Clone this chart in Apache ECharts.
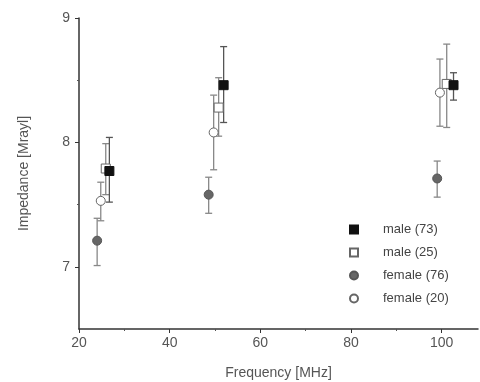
<!DOCTYPE html>
<html>
<head>
<meta charset="utf-8">
<script src="https://cdn.jsdelivr.net/npm/echarts@6/dist/echarts.min.js"></script>
<style>html,body{margin:0;padding:0;background:#fff}#c{width:480px;height:382px}</style>
</head>
<body>
<div id="c"></div>
<script>
// Data
var seriesNames = ['male (73)', 'male (25)', 'female (76)', 'female (20)'];
var freqMale73 = [26.7, 51.9, 102.6];
var male73 = [7.77, 8.46, 8.46];
var male73Lo = [7.52, 8.16, 8.34];
var male73Hi = [8.04, 8.77, 8.56];

var freqMale25 = [25.9, 50.8, 101.1];
var male25 = [7.79, 8.28, 8.47];
var male25Lo = [7.58, 8.05, 8.12];
var male25Hi = [7.99, 8.52, 8.79];

var freqFemale76 = [24.0, 48.6, 99.0];
var female76 = [7.21, 7.58, 7.71];
var female76Lo = [7.01, 7.43, 7.56];
var female76Hi = [7.39, 7.72, 7.85];

var freqFemale20 = [24.8, 49.7, 99.6];
var female20 = [7.53, 8.08, 8.40];
var female20Lo = [7.37, 7.78, 8.13];
var female20Hi = [7.68, 8.38, 8.67];

var xTickLabels = [20, 40, 60, 80, 100];
var xMinorTicks = [30, 50, 70, 90];
var yTickLabels = [7, 8, 9];
var yMinorTicks = [7.5, 8.5];

function pts(xs, ys) { return xs.map(function (x, i) { return [x, ys[i]]; }); }
function errs(xs, lo, hi) { return xs.map(function (x, i) { return [x, lo[i], hi[i]]; }); }

function errSeries(data, color) {
  return {
    type: 'custom', z: 1, silent: true,
    data: data,
    renderItem: function (params, api) {
      var x = api.value(0);
      var lo = api.coord([x, api.value(1)]);
      var hi = api.coord([x, api.value(2)]);
      var hw = 3.5;
      var st = { stroke: color, lineWidth: 1.3 };
      return {
        type: 'group',
        children: [
          { type: 'line', shape: { x1: lo[0], y1: lo[1], x2: hi[0], y2: hi[1] }, style: st },
          { type: 'line', shape: { x1: lo[0] - hw, y1: lo[1], x2: lo[0] + hw, y2: lo[1] }, style: st },
          { type: 'line', shape: { x1: hi[0] - hw, y1: hi[1], x2: hi[0] + hw, y2: hi[1] }, style: st }
        ]
      };
    }
  };
}

var font = 'Liberation Sans, Arial, Helvetica, sans-serif';
var chart = echarts.init(document.getElementById('c'));
chart.setOption({
  animation: false,
  backgroundColor: '#fff',
  grid: { left: 79, right: 2, top: 18, bottom: 53, outerBoundsMode: 'none', containLabel: false },
  legend: {
    orient: 'vertical', left: 344, top: 218,
    itemWidth: 8, itemHeight: 8, itemGap: 10,
    data: seriesNames,
    textStyle: { fontFamily: font, fontSize: 13, color: '#444', padding: [0, 0, 0, 20] }
  },
  xAxis: [{
    type: 'value', min: 20, max: 108, interval: 20,
    name: 'Frequency [MHz]', nameLocation: 'middle', nameGap: 37,
    nameTextStyle: { fontFamily: font, fontSize: 14, color: '#555' },
    axisLine: { lineStyle: { color: '#333', width: 1.5 } },
    axisTick: { customValues: xTickLabels, length: 4, lineStyle: { color: '#333' } },
    axisLabel: { customValues: xTickLabels, fontFamily: font, fontSize: 14, color: '#555', margin: 7 },
    splitLine: { show: false }
  }, {
    type: 'value', min: 20, max: 108, position: 'bottom',
    axisLine: { show: false },
    axisTick: { customValues: xMinorTicks, length: 2, lineStyle: { color: '#555' } },
    axisLabel: { show: false }, splitLine: { show: false }
  }],
  yAxis: [{
    type: 'value', min: 6.5, max: 9, interval: 0.5,
    name: 'Impedance [Mrayl]', nameLocation: 'middle', nameGap: 48, nameRotate: 90,
    nameTextStyle: { fontFamily: font, fontSize: 14, color: '#555' },
    axisLine: { show: true, lineStyle: { color: '#333', width: 1.5 } },
    axisTick: { customValues: yTickLabels, length: 4, lineStyle: { color: '#333' } },
    axisLabel: { customValues: yTickLabels, fontFamily: font, fontSize: 14, color: '#555', margin: 9 },
    splitLine: { show: false }
  }, {
    type: 'value', min: 6.5, max: 9, position: 'left',
    axisLine: { show: false },
    axisTick: { customValues: yMinorTicks, length: 2, lineStyle: { color: '#555' } },
    axisLabel: { show: false }, splitLine: { show: false }
  }],
  series: [
    errSeries(errs(freqFemale76, female76Lo, female76Hi), '#888'),
    errSeries(errs(freqFemale20, female20Lo, female20Hi), '#888'),
    errSeries(errs(freqMale25, male25Lo, male25Hi), '#888'),
    errSeries(errs(freqMale73, male73Lo, male73Hi), '#555'),
    { name: 'female (76)', type: 'scatter', z: 3, symbol: 'circle', symbolSize: 9,
      itemStyle: { color: '#666', borderColor: '#555', borderWidth: 1, opacity: 1 },
      data: pts(freqFemale76, female76) },
    { name: 'female (20)', type: 'scatter', z: 3, symbol: 'circle', symbolSize: 9,
      itemStyle: { color: '#fff', borderColor: '#666', borderWidth: 1, opacity: 1 },
      data: pts(freqFemale20, female20) },
    { name: 'male (25)', type: 'scatter', z: 3, symbol: 'rect', symbolSize: 9,
      itemStyle: { color: '#fff', borderColor: '#666', borderWidth: 1, opacity: 1 },
      data: pts(freqMale25, male25) },
    { name: 'male (73)', type: 'scatter', z: 4, symbol: 'rect', symbolSize: 9,
      itemStyle: { color: '#111', borderColor: '#111', borderWidth: 1, opacity: 1 },
      data: pts(freqMale73, male73) }
  ]
});
</script>
</body>
</html>
